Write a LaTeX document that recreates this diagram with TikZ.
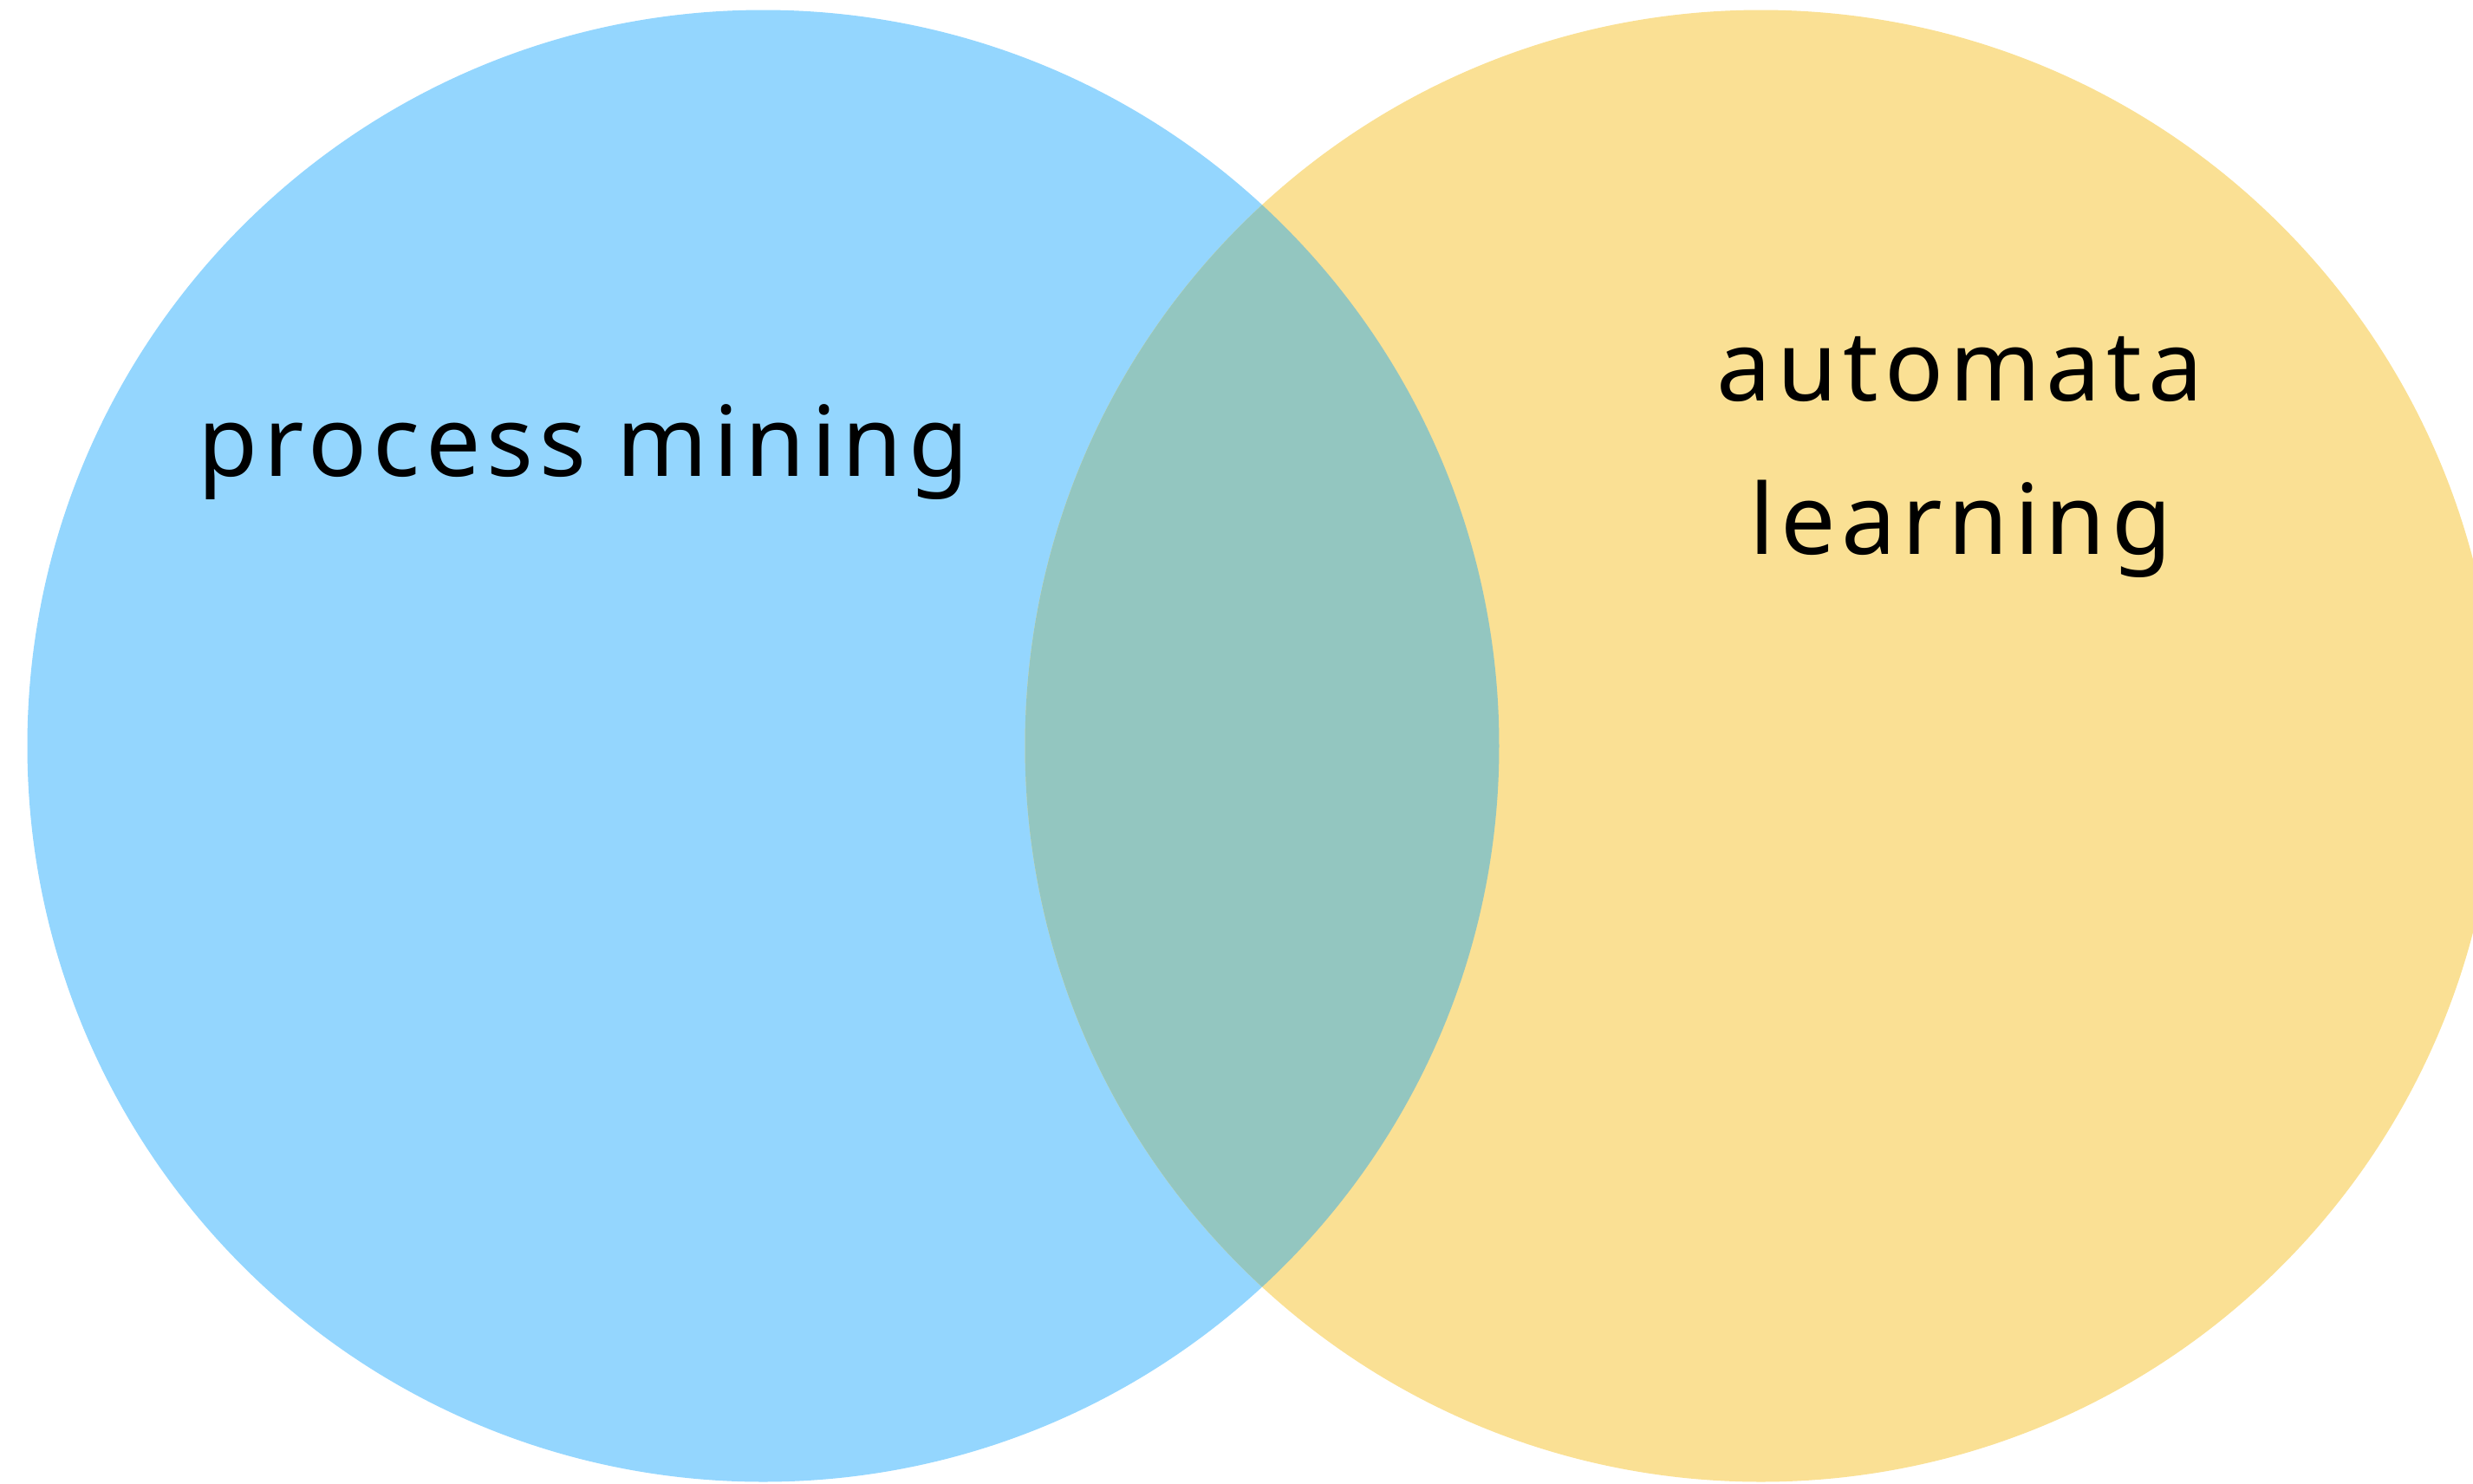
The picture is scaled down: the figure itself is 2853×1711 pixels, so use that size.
\documentclass[tikz,border=0pt]{standalone}
\usepackage{fontspec}
\setmainfont{Noto Sans}[LetterSpace=6]

\definecolor{pmblue}{HTML}{94D6FE}
\definecolor{alyellow}{HTML}{FAE094}
\definecolor{overlapgreen}{HTML}{93C6C0}

\begin{document}
\begin{tikzpicture}[
    x=0.01cm, y=-0.01cm,
    setname/.style={anchor=base, inner sep=0pt, text=black,
        font=\fontsize{32}{38}\selectfont}
]
    \useasboundingbox (0,0) rectangle (2853,1711);
    \fill[pmblue] (880.5,860.5) circle[radius=8.485cm];
    \fill[alyellow] (2031.5,860.5) circle[radius=8.485cm];
    \begin{scope}
        \clip (880.5,860.5) circle[radius=8.485cm];
        \fill[overlapgreen] (2031.5,860.5) circle[radius=8.485cm];
    \end{scope}
    \node[setname] (pm) at (673,549) {process mining};
    \node[setname] (automata) at (2261,462) {automata};
    \node[setname] (learning) at (2262,639) {learning};
\end{tikzpicture}
\end{document}
